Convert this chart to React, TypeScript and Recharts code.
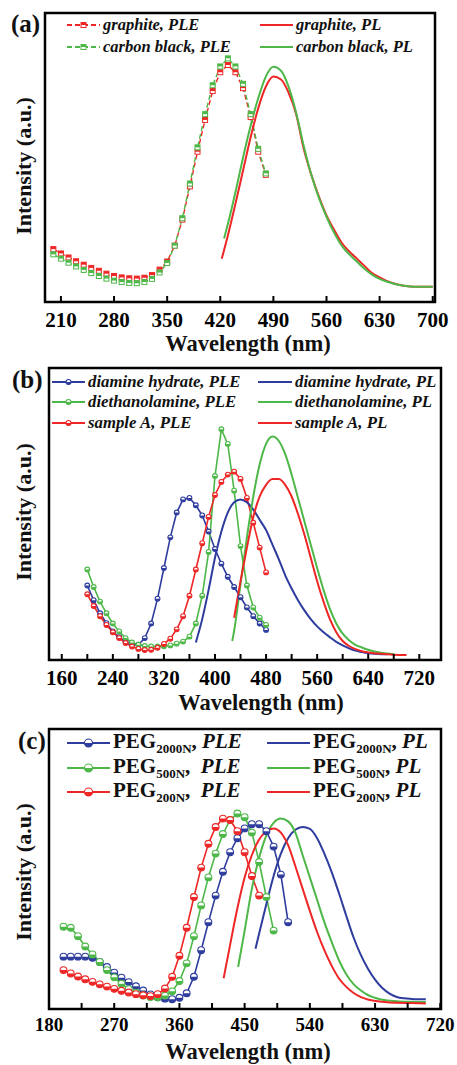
import React from "react";
import { LineChart, Line, XAxis, YAxis, ReferenceArea } from "recharts";

const SERIF = '"Liberation Serif", "Times New Roman", serif';
const RED = "#EE2626";
const GREEN = "#4DB848";
const BLUE = "#2E3C9E";

/* (a) graphite / carbon black */
const A_PLE_NM = [200, 210, 220, 230, 240, 250, 260, 270, 280, 290, 300, 310, 320, 330, 340, 350, 360, 370, 380, 390, 400, 410, 420, 430, 440, 450, 460, 470, 480];
const A_GRAPHITE_PLE = [18.3, 16.8, 15.4, 14.1, 12.9, 11.8, 10.8, 9.8, 9.0, 8.5, 8.2, 8.1, 8.4, 9.3, 11.2, 14.0, 19.5, 28.5, 40, 52, 63, 73, 79.5, 82, 79.5, 74, 64, 52, 44];
const A_CARBON_PLE = [16.5, 15.0, 13.6, 12.3, 11.1, 10.0, 9.0, 8.1, 7.4, 6.9, 6.6, 6.5, 6.9, 8.0, 10.2, 13.5, 19.5, 29, 41, 53.5, 65, 75, 81.5, 84.3, 81.5, 75.5, 65, 53, 44.5];
const A_GRAPHITE_PL_NM = [422, 430, 440, 450, 460, 470, 480, 490, 500, 510, 520, 530, 540, 550, 560, 570, 580, 590, 600, 610, 620, 630, 640, 650, 660, 670, 680, 690, 700];
const A_GRAPHITE_PL = [15, 23, 34, 45.5, 57, 67, 74.5, 78, 77, 72.5, 65, 53, 44, 36.5, 30, 25, 20.5, 17.5, 15, 12.5, 10, 8.5, 7.2, 6.3, 5.7, 5.4, 5.3, 5.3, 5.3];
const A_CARBON_PL_NM = [425, 430, 440, 450, 460, 470, 480, 490, 500, 510, 520, 530, 540, 550, 560, 570, 580, 590, 600, 610, 620, 630, 640, 650, 660, 670, 680, 690, 700];
const A_CARBON_PL = [22, 27, 38, 50, 61, 70.5, 78, 81.4, 80, 74.5, 65.5, 54, 44, 36, 29.5, 24, 19.5, 16.5, 14, 11.5, 9.5, 8, 7, 6.2, 5.7, 5.4, 5.3, 5.3, 5.3];
const A_TICKS = [210, 280, 350, 420, 490, 560, 630, 700];

/* (b) diamine hydrate / diethanolamine / sample A */
const B_PLE_NM = [200, 210, 220, 230, 240, 250, 260, 270, 280, 290, 300, 310, 320, 330, 340, 350, 360, 370, 380, 390, 400, 410, 420, 430, 440, 450, 460, 470, 480];
const B_DIAMINE_PLE = [25.5, 20.5, 16, 12.6, 9.8, 7.8, 6.2, 5.2, 5.2, 7.5, 12.5, 21, 31.5, 42, 50.5, 55, 55.5, 53, 49.5, 44, 38, 33, 28.5, 25, 21.5, 18, 15, 12.5, 10.3];
const B_DIETHANOL_PLE = [31, 25, 20, 16, 12.5, 9.8, 7.5, 6, 5.2, 4.8, 4.6, 4.6, 4.7, 5, 5.6, 6.3, 8, 12.5, 22, 37, 63, 79, 74, 58, 39, 25.5, 18, 14.5, 12];
const B_SAMPLE_PLE = [22.5, 18.5, 15, 12, 9.5, 7.5, 5.8, 4.6, 3.8, 3.4, 3.5, 4.2, 5.5, 7.3, 10.5, 15, 22, 31, 40, 49, 56.5, 61, 63.5, 64.5, 62, 55.5, 47, 38.5, 30];
const B_DIAMINE_PL_NM = [370, 380, 390, 400, 410, 420, 430, 440, 450, 460, 470, 480, 490, 500, 510, 520, 530, 540, 550, 560, 570, 580, 590, 600, 610, 620, 630, 640, 650, 660, 670];
const B_DIAMINE_PL = [6, 14, 24, 35, 44, 50.5, 54, 55, 54, 51.5, 48, 44.5, 39.5, 34.5, 29, 24.5, 20.5, 17, 14, 11.5, 9.5, 7.8, 6.2, 5, 4, 3.2, 2.7, 2.3, 2.1, 2, 2];
const B_DIETHANOL_PL_NM = [427, 430, 440, 450, 460, 470, 480, 490, 500, 510, 520, 530, 540, 550, 560, 570, 580, 590, 600, 610, 620, 630, 640, 650, 660, 670, 680];
const B_DIETHANOL_PL = [6.5, 10, 26, 42, 56, 67, 74, 76.5, 75, 70.5, 63.5, 55.5, 47.5, 39.5, 31.5, 24, 17.5, 12.5, 9, 6.8, 5.2, 4.3, 3.5, 2.9, 2.5, 2.2, 2];
const B_SAMPLE_PL_NM = [430, 440, 450, 460, 470, 480, 490, 500, 510, 520, 530, 540, 550, 560, 570, 580, 590, 600, 610, 620, 630, 640, 660, 680, 700];
const B_SAMPLE_PL = [14.5, 27, 38.5, 49, 56, 60, 62, 62, 60, 56, 50, 43, 35, 27, 20, 14, 9.5, 6.5, 4.8, 3.7, 3, 2.6, 2.1, 1.8, 1.7];
const B_TICKS = [160, 200, 240, 280, 320, 360, 400, 440, 480, 520, 560, 600, 640, 680, 720];
const B_LABELS = [160, 240, 320, 400, 480, 560, 640, 720];

/* (c) PEG series */
const C_PLE_NM = [200, 210, 220, 230, 240, 250, 260, 270, 280, 290, 300, 310, 320, 330, 340, 350, 360, 370, 380, 390, 400, 410, 420, 430, 440, 450, 460, 470, 480, 490, 500, 510];
const C_PEG2000_PLE = [18.7, 18.7, 18.7, 18.7, 18.3, 16.8, 15, 13, 11.2, 9.6, 8.1, 6.6, 5.2, 4.2, 3.7, 3.5, 4, 5.6, 11.5, 21, 31, 40.5, 49, 56, 61, 64.5, 66, 66, 63.5, 58, 48, 31];
const C_PEG500_PLE = [29.4, 29, 26, 22.3, 19.5, 16.8, 13.9, 11.3, 9, 7.1, 5.8, 4.8, 4.3, 4.2, 4.8, 6.3, 10, 16.3, 26, 37, 47, 55.5, 62.5, 67.5, 69.8, 68.5, 63, 52.5, 40, 28];
const C_PEG200_PLE = [13.9, 12.7, 11.6, 10.6, 9.7, 8.8, 8, 7.2, 6.5, 5.9, 5.3, 4.9, 4.6, 5.3, 7.3, 11.5, 19, 29, 40, 50.5, 59, 65, 68, 67.5, 63.5, 56, 47.5, 40.5];
const C_PEG2000_PL_NM = [465, 470, 480, 490, 500, 510, 520, 530, 540, 550, 560, 570, 580, 590, 600, 610, 620, 630, 640, 650, 660, 670, 680, 690, 700];
const C_PEG2000_PL = [21.5, 27, 37.5, 47.5, 55.5, 61, 64, 65, 64.3, 61, 55.5, 49, 41.5, 33.5, 25.8, 19.5, 14.5, 10.5, 7.5, 5.5, 4.3, 3.8, 3.6, 3.5, 3.5];
const C_PEG500_PL_NM = [441, 450, 460, 470, 480, 490, 500, 510, 520, 530, 540, 550, 560, 570, 580, 590, 600, 610, 620, 630, 640, 660, 680, 700];
const C_PEG500_PL = [15, 28, 43, 54, 62, 66.5, 68, 67, 63, 55, 47, 39, 31, 24, 17.5, 12.5, 9, 6.7, 5, 4, 3.3, 2.8, 2.6, 2.5];
const C_PEG200_PL_NM = [421, 430, 440, 450, 460, 470, 480, 490, 500, 510, 520, 530, 540, 550, 560, 570, 580, 590, 600, 610, 620, 640, 660, 680, 700];
const C_PEG200_PL = [11, 23, 36, 47, 55, 60.5, 63.5, 64.5, 63, 58.5, 51, 43, 35, 27.5, 21, 15.5, 11, 8, 5.8, 4.3, 3.4, 2.6, 2.2, 2.1, 2];
const C_TICKS = [180, 225, 270, 315, 360, 405, 450, 495, 540, 585, 630, 675, 720];
const C_LABELS = [180, 270, 360, 450, 540, 630, 720];

const zip = (xs: number[], ys: number[]) => xs.slice(0, ys.length).map((x, i) => ({ x, y: ys[i] }));

type Marker = "square" | "half" | "none";

function markerShape(kind: Marker, color: string, cx: number, cy: number, r: number, key?: string) {
  if (kind === "square") {
    return (
      <g key={key}>
        <rect x={cx - r} y={cy - r} width={2 * r} height={2 * r} fill="#fff" stroke={color} strokeWidth={1} />
        <rect x={cx - r} y={cy - r} width={2 * r} height={r} fill={color} />
      </g>
    );
  }
  if (kind === "half") {
    return (
      <g key={key}>
        <circle cx={cx} cy={cy} r={r} fill="#fff" stroke={color} strokeWidth={1.1} />
        <path d={`M${cx - r},${cy} A${r},${r} 0 0 0 ${cx + r},${cy} Z`} fill={color} />
      </g>
    );
  }
  return null;
}

type Series = {
  name: string;
  data: { x: number; y: number }[];
  color: string;
  marker: Marker;
  r?: number;
  dash?: string;
  width?: number;
};

function Panel({
  top,
  height,
  frameTop,
  frameBottom,
  left,
  right,
  domain,
  ticks,
  labels,
  tickFont = 21,
  tickGap = 16,
  series,
}: {
  top: number;
  height: number;
  frameTop: number;
  frameBottom: number;
  left: number;
  right: number;
  domain: [number, number];
  ticks: number[];
  labels: number[];
  tickFont?: number;
  tickGap?: number;
  series: Series[];
}) {
  return (
    <div style={{ position: "absolute", left: 0, top }}>
      <LineChart
        width={457}
        height={height}
        margin={{ top: frameTop - top, left, right: 457 - right, bottom: top + height - frameBottom - 30 }}
      >
        <XAxis
          type="number"
          dataKey="x"
          domain={domain}
          ticks={ticks}
          interval={0}
          allowDataOverflow
          height={30}
          axisLine={false}
          tickSize={-6}
          tickMargin={tickGap}
          tickLine={{ stroke: "#000", strokeWidth: 2 }}
          tick={{ fill: "#000", fontSize: tickFont, fontWeight: "bold", fontFamily: SERIF }}
          tickFormatter={(v: number) => (labels.includes(v) ? String(v) : "")}
        />
        <YAxis type="number" domain={[0, 100]} hide />
        <ReferenceArea
          x1={domain[0]}
          x2={domain[1]}
          y1={0}
          y2={100}
          fill="none"
          stroke="#000"
          strokeWidth={2.5}
          ifOverflow="visible"
        />
        {series.map((s) => (
          <Line
            key={s.name}
            data={s.data}
            dataKey="y"
            name={s.name}
            type={s.marker === "none" ? "monotone" : "linear"}
            stroke={s.color}
            strokeWidth={s.width ?? 1.6}
            strokeDasharray={s.dash}
            dot={
              s.marker === "none"
                ? false
                : (p: any) => markerShape(s.marker, s.color, p.cx, p.cy, s.r ?? 2.5, `${s.name}-${p.index}`)
            }
            activeDot={false}
            isAnimationActive={false}
          />
        ))}
      </LineChart>
    </div>
  );
}

function LegendItem({
  x,
  y,
  w,
  color,
  marker,
  r = 2.5,
  dash,
  fontSize,
  children,
}: {
  x: number;
  y: number;
  w: number;
  color: string;
  marker: Marker;
  r?: number;
  dash?: string;
  fontSize: number;
  children: React.ReactNode;
}) {
  return (
    <div
      style={{
        position: "absolute",
        left: x,
        top: y - 12,
        height: 24,
        display: "flex",
        alignItems: "center",
        whiteSpace: "nowrap",
        fontFamily: SERIF,
        fontWeight: "bold",
        fontSize,
        color: "#111",
      }}
    >
      <svg width={w} height={14} style={{ marginRight: 3 }}>
        <line x1={0} y1={7} x2={w} y2={7} stroke={color} strokeWidth={2} strokeDasharray={dash} />
        {markerShape(marker, color, w / 2, 7, r)}
      </svg>
      <span>{children}</span>
    </div>
  );
}

const textStyle: React.CSSProperties = {
  position: "absolute",
  fontFamily: SERIF,
  fontWeight: "bold",
  color: "#111",
  lineHeight: 1,
  whiteSpace: "nowrap",
};

function YTitle({ cy }: { cy: number }) {
  return (
    <div style={{ ...textStyle, left: 24, top: cy, fontSize: 22, transform: "translate(-50%, -50%) rotate(-90deg)" }}>
      Intensity (a.u.)
    </div>
  );
}

function XTitle({ cx, top }: { cx: number; top: number }) {
  return (
    <div style={{ ...textStyle, left: cx, top, fontSize: 22.5, transform: "translateX(-50%)" }}>
      Wavelength (nm)
    </div>
  );
}

const Peg = ({ n, pl, gap }: { n: string; pl: string; gap?: boolean }) => (
  <>
    PEG<sub style={{ fontSize: 13, verticalAlign: "-5px" }}>{n}</sub>,{gap ? "\u00a0 " : " "}
    <i>{pl}</i>
  </>
);

export default function App() {
  return (
    <div style={{ position: "absolute", left: 0, top: 0, width: 457, height: 1065, background: "#fff", overflow: "hidden" }}>
      <Panel
        top={0}
        height={340}
        frameTop={13}
        frameBottom={302}
        left={45}
        right={435}
        domain={[189, 703]}
        ticks={A_TICKS}
        labels={A_TICKS}
        series={[
          { name: "gPLE", data: zip(A_PLE_NM, A_GRAPHITE_PLE), color: RED, marker: "square", dash: "5 3", width: 1.4 },
          { name: "cPLE", data: zip(A_PLE_NM, A_CARBON_PLE), color: GREEN, marker: "square", dash: "5 3", width: 1.4 },
          { name: "gPL", data: zip(A_GRAPHITE_PL_NM, A_GRAPHITE_PL), color: RED, marker: "none", width: 2 },
          { name: "cPL", data: zip(A_CARBON_PL_NM, A_CARBON_PL), color: GREEN, marker: "none", width: 2 },
        ]}
      />
      <Panel
        top={355}
        height={340}
        frameTop={368}
        frameBottom={660}
        left={49}
        right={441}
        domain={[140, 754]}
        ticks={B_TICKS}
        labels={B_LABELS}
        series={[
          { name: "dPLE", data: zip(B_PLE_NM, B_DIAMINE_PLE), color: BLUE, marker: "half", r: 2.4 },
          { name: "ePLE", data: zip(B_PLE_NM, B_DIETHANOL_PLE), color: GREEN, marker: "half", r: 2.4 },
          { name: "sPLE", data: zip(B_PLE_NM, B_SAMPLE_PLE), color: RED, marker: "half", r: 2.4 },
          { name: "dPL", data: zip(B_DIAMINE_PL_NM, B_DIAMINE_PL), color: BLUE, marker: "none", width: 2 },
          { name: "ePL", data: zip(B_DIETHANOL_PL_NM, B_DIETHANOL_PL), color: GREEN, marker: "none", width: 2 },
          { name: "sPL", data: zip(B_SAMPLE_PL_NM, B_SAMPLE_PL), color: RED, marker: "none", width: 2 },
        ]}
      />
      <Panel
        top={716}
        height={330}
        frameTop={729}
        frameBottom={1009}
        left={49}
        right={441}
        domain={[180, 721]}
        ticks={C_TICKS}
        labels={C_LABELS}
        tickFont={19}
        tickGap={15}
        series={[
          { name: "p2PLE", data: zip(C_PLE_NM, C_PEG2000_PLE), color: BLUE, marker: "half", r: 3.4 },
          { name: "p5PLE", data: zip(C_PLE_NM, C_PEG500_PLE), color: GREEN, marker: "half", r: 3.4 },
          { name: "p0PLE", data: zip(C_PLE_NM, C_PEG200_PLE), color: RED, marker: "half", r: 3.4 },
          { name: "p2PL", data: zip(C_PEG2000_PL_NM, C_PEG2000_PL), color: BLUE, marker: "none", width: 2 },
          { name: "p5PL", data: zip(C_PEG500_PL_NM, C_PEG500_PL), color: GREEN, marker: "none", width: 2 },
          { name: "p0PL", data: zip(C_PEG200_PL_NM, C_PEG200_PL), color: RED, marker: "none", width: 2 },
        ]}
      />

      {/* panel letters */}
      <div style={{ ...textStyle, left: 11, top: 11, fontSize: 25 }}>(a)</div>
      <div style={{ ...textStyle, left: 12, top: 367, fontSize: 25 }}>(b)</div>
      <div style={{ ...textStyle, left: 18, top: 728, fontSize: 25 }}>(c)</div>

      {/* axis titles */}
      <YTitle cy={166} />
      <YTitle cy={512} />
      <YTitle cy={872} />
      <XTitle cx={248} top={333} />
      <XTitle cx={261} top={692} />
      <XTitle cx={248} top={1041} />

      {/* legend (a) */}
      <div style={{ fontStyle: "italic" }}>
        <LegendItem x={67} y={25} w={33} color={RED} marker="square" dash="5 3" fontSize={16.5}>graphite, PLE</LegendItem>
        <LegendItem x={67} y={47} w={33} color={GREEN} marker="square" dash="5 3" fontSize={16.5}>carbon black, PLE</LegendItem>
        <LegendItem x={260} y={25} w={33} color={RED} marker="none" fontSize={16.5}>graphite, PL</LegendItem>
        <LegendItem x={260} y={47} w={33} color={GREEN} marker="none" fontSize={16.5}>carbon black, PL</LegendItem>

        {/* legend (b) */}
        <LegendItem x={52} y={382} w={33} color={BLUE} marker="half" fontSize={16.8}>diamine hydrate, PLE</LegendItem>
        <LegendItem x={52} y={402} w={33} color={GREEN} marker="half" fontSize={16.8}>diethanolamine, PLE</LegendItem>
        <LegendItem x={52} y={423} w={33} color={RED} marker="half" fontSize={16.8}>sample A, PLE</LegendItem>
        <LegendItem x={258} y={382} w={34} color={BLUE} marker="none" fontSize={16.8}>diamine hydrate, PL</LegendItem>
        <LegendItem x={258} y={402} w={34} color={GREEN} marker="none" fontSize={16.8}>diethanolamine, PL</LegendItem>
        <LegendItem x={258} y={423} w={34} color={RED} marker="none" fontSize={16.8}>sample A, PL</LegendItem>
      </div>

      {/* legend (c) */}
      <div style={{ fontStyle: "normal" }}>
        <LegendItem x={67} y={743} w={43} color={BLUE} marker="half" r={4} fontSize={21}><Peg n="2000N" pl="PLE" /></LegendItem>
        <LegendItem x={67} y={768} w={43} color={GREEN} marker="half" r={4} fontSize={21}><Peg n="500N" pl="PLE" gap /></LegendItem>
        <LegendItem x={67} y={792} w={43} color={RED} marker="half" r={4} fontSize={21}><Peg n="200N" pl="PLE" gap /></LegendItem>
        <LegendItem x={267} y={743} w={43} color={BLUE} marker="none" fontSize={21}><Peg n="2000N" pl="PL" /></LegendItem>
        <LegendItem x={267} y={768} w={43} color={GREEN} marker="none" fontSize={21}><Peg n="500N" pl="PL" /></LegendItem>
        <LegendItem x={267} y={792} w={43} color={RED} marker="none" fontSize={21}><Peg n="200N" pl="PL" /></LegendItem>
      </div>
    </div>
  );
}
